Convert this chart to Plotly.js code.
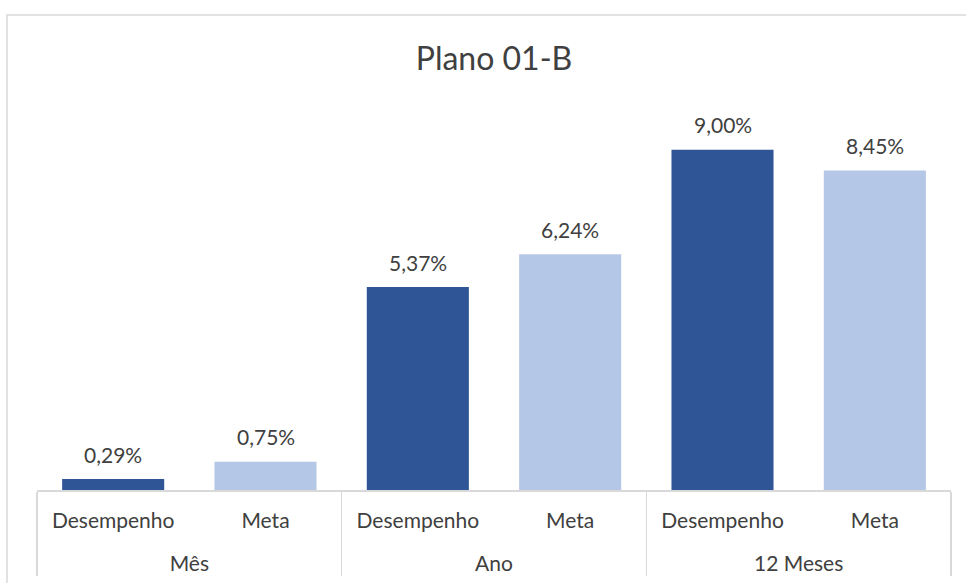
<!DOCTYPE html>
<html>
<head>
<meta charset="utf-8">
<script src="https://cdn.plot.ly/plotly-3.0.1.min.js"></script>
<style>
html,body{margin:0;padding:0;background:#fff;}
#chart{width:966px;height:583px;}
</style>
</head>
<body>
<div id="chart"></div>
<script>
const groups = ["Mês", "Mês", "Ano", "Ano", "12 Meses", "12 Meses"];
const subs = ["Desempenho", "Meta", "Desempenho", "Meta", "Desempenho", "Meta"];
const values = [0.29, 0.75, 5.37, 6.24, 9.00, 8.45];
const barColors = ["#2F5597", "#B4C7E7", "#2F5597", "#B4C7E7", "#2F5597", "#B4C7E7"];
const titleText = "Plano 01-B";

const FONT = "Lato, 'Open Sans', sans-serif";
const TXT = "#404040";

// second (blank) line under each sub label leaves room between the two label rows
const subLabels = subs.map(s => s + "<br> ");

const trace = {
  type: "bar",
  x: [groups, subLabels],
  y: values,
  marker: {color: barColors},
  hoverinfo: "skip"
};

const annotations = values.map((v, i) => ({
  x: i, y: v, xref: "x", yref: "y",
  text: v.toFixed(2).replace(".", ",") + "%",
  showarrow: false, yanchor: "middle", yshift: 25,
  font: {family: FONT, size: 21, color: TXT}
}));

const layout = {
  width: 966, height: 583,
  margin: {l: 37, r: 15, t: 112, b: 93},
  paper_bgcolor: "#fff", plot_bgcolor: "#fff",
  separators: ",.",
  showlegend: false,
  bargap: 0.33,
  title: {
    text: titleText, x: 0.5, xref: "paper", xanchor: "center",
    y: 0.9, yref: "container", yanchor: "middle",
    font: {family: FONT, size: 32, color: TXT}
  },
  xaxis: {
    type: "multicategory",
    showline: true, linecolor: "#d9d9d9", linewidth: 1.5,
    showdividers: true, dividercolor: "#d9d9d9", dividerwidth: 1.5,
    ticks: "", tickfont: {family: FONT, size: 21, color: TXT},
    ticklabelstandoff: 11,
    showgrid: false, zeroline: false, fixedrange: true
  },
  yaxis: {
    range: [0, 10], visible: false, showgrid: false, zeroline: false, fixedrange: true
  },
  annotations: annotations,
  shapes: [{
    type: "path", xref: "paper", yref: "paper",
    path: "M -0.0328,-0.3 L -0.0328,1.2566 L 1.1,1.2566",
    line: {color: "#d9d9d9", width: 1.5}
  }]
};

Plotly.newPlot("chart", [trace], layout, {displayModeBar: false, staticPlot: true});
</script>
</body>
</html>
